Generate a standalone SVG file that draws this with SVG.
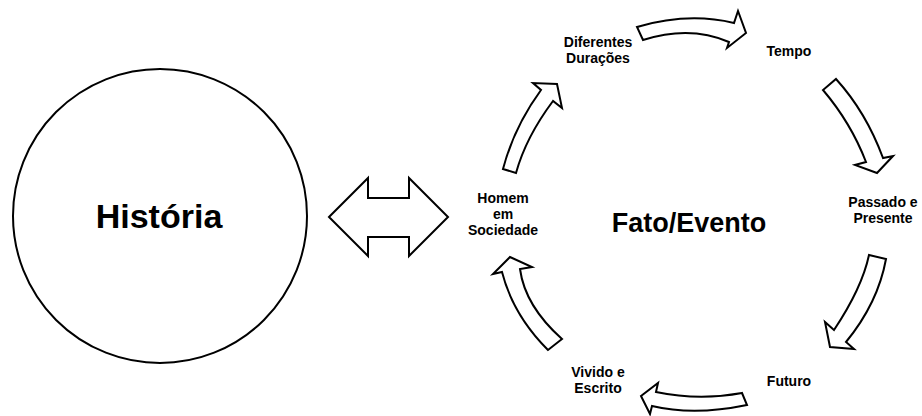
<svg xmlns="http://www.w3.org/2000/svg" width="922" height="416" viewBox="0 0 922 416">
  <style>
    .shape { fill: #ffffff; stroke: #000000; stroke-width: 2; stroke-linejoin: miter; }
    .lbl { font-family: "Liberation Sans", Arial, sans-serif; font-weight: bold; font-size: 14px; fill: #000000; text-anchor: middle; }
    .big { font-family: "Liberation Sans", Arial, sans-serif; font-weight: bold; fill: #000000; text-anchor: middle; }
  </style>
  <rect width="922" height="416" fill="#ffffff"/>

  <!-- main circle -->
  <g id="historia">
    <circle class="shape" cx="160" cy="216" r="147"/>
    <text class="big" x="159" y="228" font-size="34">História</text>
  </g>

  <!-- two-way link between the circle and the cycle -->
  <g id="link">
    <polygon class="shape" points="329,217 368,178 368,198 409,198 409,178 448,217 409,256 409,237 368,237 368,256"/>
  </g>

  <g id="centro">
    <text class="big" x="689" y="232" font-size="27">Fato/Evento</text>
  </g>

  <g id="homem">
    <text class="lbl" x="503" y="203">Homem</text>
    <text class="lbl" x="503" y="219">em</text>
    <text class="lbl" x="503" y="235">Sociedade</text>
  </g>
  <g id="duracoes">
    <text class="lbl" x="598" y="47">Diferentes</text>
    <text class="lbl" x="598" y="63">Durações</text>
  </g>
  <g id="tempo">
    <text class="lbl" x="789" y="56">Tempo</text>
  </g>
  <g id="passado">
    <text class="lbl" x="883" y="207">Passado e</text>
    <text class="lbl" x="883" y="223">Presente</text>
  </g>
  <g id="futuro">
    <text class="lbl" x="789" y="386">Futuro</text>
  </g>
  <g id="vivido">
    <text class="lbl" x="598" y="377">Vivido e</text>
    <text class="lbl" x="598" y="393">Escrito</text>
  </g>

  <!-- curved block arrows of the cycle -->
  <g id="connectors">
    <path class="shape" d="M637,27 Q688,12 734,23 L738,11 L746,33 L727,48 L729,42 Q690,25 643,40 Z"/>
    <path class="shape" d="M836,79 Q866,112 883,158 L893,156 L877,173 L855,165 L866,162 Q851,123 823,90 Z"/>
    <path class="shape" d="M886,259 Q878,303 846,342 L854,349 L830,347 L825,322 L834,330 Q862,288 869,255 Z"/>
    <path class="shape" d="M742,393 Q699,401 656,392 L658,383 L641,396 L650,414 L652,406 Q694,416 747,405 Z"/>
    <path class="shape" d="M548,350 Q513,315 502,272 L493,274 L510,257 L532,267 L520,269 Q525,306 562,339 Z"/>
    <path class="shape" d="M503,169 Q514,127 541,90 L533,83 L557,84 L562,108 L553,101 Q526,137 516,173 Z"/>
  </g>
</svg>
